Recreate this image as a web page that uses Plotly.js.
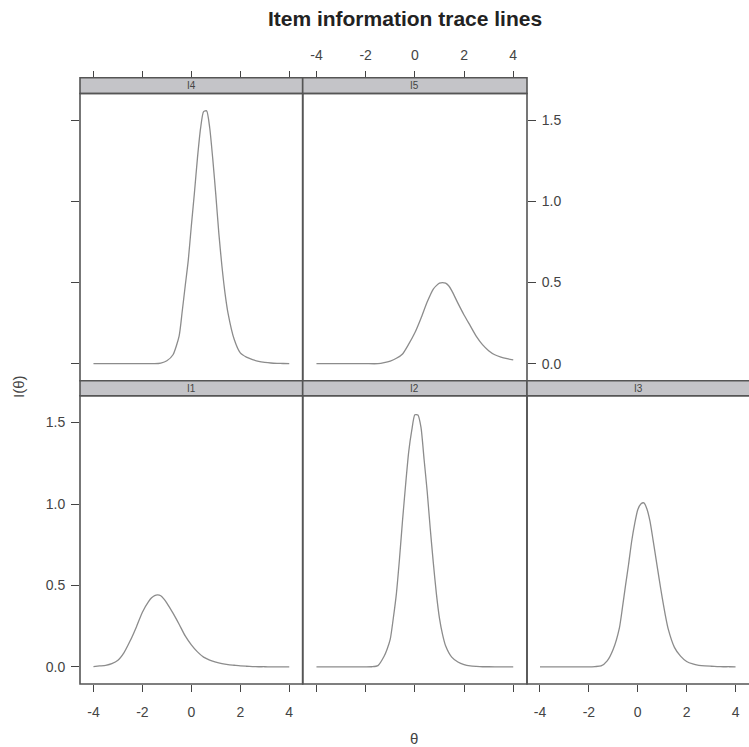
<!DOCTYPE html>
<html>
<head>
<meta charset="utf-8">
<script src="https://cdn.plot.ly/plotly-3.0.1.min.js"></script>
<style>
  html, body { margin: 0; padding: 0; background: #ffffff; }
  #plot { width: 749px; height: 747px; }
</style>
</head>
<body>
<div id="plot"></div>
<script>
// Item information I(theta), one theta grid per item (denser around each peak)
const thetaI1 = [-4, -3.75, -3.5, -3.25, -3, -2.75, -2.5, -2.25, -2, -1.75, -1.625, -1.5, -1.375,
  -1.25, -1.125, -1, -0.75, -0.5, -0.25, 0, 0.25, 0.5, 0.75, 1, 1.25, 1.5, 1.75, 2, 2.25, 2.5,
  2.75, 3, 3.25, 3.5, 3.75, 4];
const infoI1 = [0.002, 0.006, 0.010, 0.020, 0.041, 0.088, 0.160, 0.244, 0.336, 0.400, 0.424,
  0.438, 0.442, 0.437, 0.418, 0.392, 0.330, 0.262, 0.190, 0.135, 0.092, 0.060, 0.042, 0.029,
  0.020, 0.014, 0.010, 0.006, 0.004, 0.002, 0.001, 0.001, 0, 0, 0, 0];

const thetaI2 = [-4, -3.5, -3, -2.5, -2, -1.75, -1.5, -1.25, -1.125, -1, -0.875, -0.75, -0.625,
  -0.5, -0.375, -0.25, -0.125, 0, 0.125, 0.25, 0.375, 0.5, 0.625, 0.75, 0.875, 1, 1.125, 1.25,
  1.5, 1.75, 2, 2.25, 2.5, 2.75, 3, 3.5, 4];
const infoI2 = [0, 0, 0, 0, 0, 0.001, 0.008, 0.065, 0.110, 0.170, 0.300, 0.450, 0.662, 0.900,
  1.120, 1.320, 1.453, 1.548, 1.546, 1.470, 1.275, 1.080, 0.851, 0.640, 0.450, 0.300, 0.200,
  0.130, 0.060, 0.030, 0.014, 0.006, 0.003, 0.001, 0.001, 0, 0];

const thetaI3 = [-4, -3.5, -3, -2.5, -2, -1.75, -1.5, -1.25, -1, -0.75, -0.625, -0.5, -0.375,
  -0.25, -0.125, 0, 0.125, 0.25, 0.375, 0.5, 0.625, 0.75, 0.875, 1, 1.125, 1.25, 1.5, 1.75, 2,
  2.25, 2.5, 2.75, 3, 3.25, 3.5, 3.75, 4];
const infoI3 = [0, 0, 0, 0, 0, 0.002, 0.006, 0.037, 0.110, 0.240, 0.365, 0.500, 0.630, 0.770,
  0.880, 0.965, 1.000, 1.007, 0.970, 0.895, 0.780, 0.660, 0.540, 0.425, 0.320, 0.230, 0.120,
  0.066, 0.033, 0.018, 0.010, 0.006, 0.004, 0.002, 0.001, 0.001, 0];

const thetaI4 = [-4, -3.5, -3, -2.5, -2, -1.5, -1.25, -1, -0.75, -0.5, -0.375, -0.25, -0.125, 0,
  0.125, 0.25, 0.375, 0.5, 0.625, 0.75, 0.875, 1, 1.125, 1.25, 1.375, 1.5, 1.75, 2, 2.25, 2.5,
  2.75, 3, 3.25, 3.5, 3.75, 4];
const infoI4 = [0, 0, 0, 0, 0, 0, 0.004, 0.018, 0.055, 0.170, 0.320, 0.480, 0.638, 0.850, 1.052,
  1.268, 1.448, 1.553, 1.558, 1.454, 1.262, 1.040, 0.800, 0.600, 0.435, 0.310, 0.150, 0.066,
  0.040, 0.025, 0.014, 0.008, 0.004, 0.002, 0.001, 0];

const thetaI5 = [-4, -3.5, -3, -2.5, -2, -1.5, -1.25, -1, -0.75, -0.5, -0.25, 0, 0.25, 0.5, 0.75,
  0.875, 1, 1.125, 1.25, 1.375, 1.5, 1.75, 2, 2.25, 2.5, 2.75, 3, 3.25, 3.5, 3.75, 4];
const infoI5 = [0, 0, 0, 0, 0, 0, 0.006, 0.016, 0.033, 0.060, 0.120, 0.190, 0.280, 0.380, 0.460,
  0.481, 0.496, 0.500, 0.496, 0.480, 0.450, 0.373, 0.300, 0.234, 0.168, 0.117, 0.080, 0.055,
  0.041, 0.031, 0.023];

// Tick positions and labels
const xTickVals = [-4, -2, 0, 2, 4];
const xTickText = ['-4', '-2', '0', '2', '4'];
const yTickVals = [0, 0.5, 1, 1.5];
const yTickText = ['0.0', '0.5', '1.0', '1.5'];

const titleText = 'Item information trace lines';
const xTitleText = '\u03b8';
const yTitleText = 'I(\u03b8)';

// ---- page geometry (pixels) ----
const W = 749, H = 747;
const fx = p => p / W;
const fy = p => 1 - p / H;

const colPx = [[80, 302.7], [302.7, 527], [527, 749]];
const colRange = [[-4.55, 4.55], [-4.56, 4.56], [-4.53, 4.55]];
const rowPx = {
  top:    { strip: [77.7, 93.5],  panel: [93.5, 380.7] },
  bottom: { strip: [380.7, 395.7], panel: [395.7, 684] }
};
const yRange = [-0.105, 1.665];

const ink = '#444444';
const frame = '#555555';
const stripFill = '#c4c4c8';
const curveColor = '#8c8c8c';
const tickFont = { family: 'Liberation Sans Narrow, Arial Narrow, Liberation Sans, Arial, sans-serif', size: 14, color: ink };

// Lattice-style arrangement: upper row I4, I5; lower row I1, I2, I3
const panels = [
  { name: 'I4', x: thetaI4, y: infoI4, col: 0, row: 'top',    xAxis: 'topTicks',     yAxis: 'leftTicks' },
  { name: 'I5', x: thetaI5, y: infoI5, col: 1, row: 'top',    xAxis: 'topLabels',    yAxis: 'rightLabels' },
  { name: 'I1', x: thetaI1, y: infoI1, col: 0, row: 'bottom', xAxis: 'bottomLabels', yAxis: 'leftLabels' },
  { name: 'I2', x: thetaI2, y: infoI2, col: 1, row: 'bottom', xAxis: 'bottomTicks',  yAxis: 'none' },
  { name: 'I3', x: thetaI3, y: infoI3, col: 2, row: 'bottom', xAxis: 'bottomLabels', yAxis: 'none' }
];

const traces = [];
const layout = {
  width: W, height: H,
  margin: { l: 0, r: 0, t: 0, b: 0 },
  paper_bgcolor: '#ffffff',
  plot_bgcolor: 'rgba(0,0,0,0)',
  showlegend: false,
  title: {
    text: '<b>' + titleText + '</b>',
    x: fx(405), xref: 'paper', xanchor: 'center',
    y: fy(19), yref: 'container', yanchor: 'middle',
    font: { family: 'Liberation Sans, Arial, sans-serif', size: 21, color: '#222222' }
  },
  shapes: [],
  annotations: []
};

panels.forEach((p, i) => {
  const k = i + 1;
  const xName = 'xaxis' + (k === 1 ? '' : k);
  const yName = 'yaxis' + (k === 1 ? '' : k);
  const xId = 'x' + (k === 1 ? '' : k);
  const yId = 'y' + (k === 1 ? '' : k);
  const cx = colPx[p.col];
  const r = rowPx[p.row];

  traces.push({
    x: p.x, y: p.y, xaxis: xId, yaxis: yId,
    type: 'scatter', mode: 'lines',
    line: { color: curveColor, width: 1.3, shape: 'spline', smoothing: 0.6 },
    hoverinfo: 'skip'
  });

  const xa = {
    domain: [fx(cx[0]), fx(cx[1])], range: colRange[p.col],
    showgrid: false, zeroline: false, showline: false,
    tickvals: xTickVals, ticktext: xTickText,
    ticks: 'outside', ticklen: 7, tickwidth: 1, tickcolor: ink,
    tickfont: tickFont, automargin: false, fixedrange: true
  };
  if (p.xAxis.startsWith('top')) {
    xa.anchor = 'free';
    xa.position = fy(r.strip[0]);
    xa.side = 'top';
    xa.ticklabelstandoff = 5;
  } else {
    xa.anchor = yId;
    xa.side = 'bottom';
    xa.ticklabelstandoff = 8;
  }
  xa.showticklabels = p.xAxis.endsWith('Labels');
  layout[xName] = xa;

  layout[yName] = {
    domain: [fy(r.panel[1]), fy(r.panel[0])], range: yRange,
    anchor: xId,
    showgrid: false, zeroline: false, showline: false,
    tickvals: yTickVals, ticktext: yTickText,
    ticks: p.yAxis === 'none' ? '' : 'outside', ticklen: 8, tickwidth: 1, tickcolor: ink,
    tickfont: tickFont, automargin: false, fixedrange: true,
    side: p.yAxis.startsWith('right') ? 'right' : 'left',
    showticklabels: p.yAxis.endsWith('Labels'),
    ticklabelstandoff: 3
  };

  // the rightmost column runs past the page edge, so its frame is pushed off-page
  const right = p.col === 2 ? 752 : cx[1];
  // strip carrying the item name
  layout.shapes.push({
    type: 'rect', xref: 'paper', yref: 'paper', layer: 'above',
    x0: fx(cx[0]), x1: fx(right), y0: fy(r.strip[1]), y1: fy(r.strip[0]),
    fillcolor: stripFill, line: { color: frame, width: 1.6 }
  });
  layout.annotations.push({
    xref: 'paper', yref: 'paper', showarrow: false,
    x: fx((cx[0] + cx[1]) / 2), y: fy((r.strip[0] + r.strip[1]) / 2),
    xanchor: 'center', yanchor: 'middle',
    text: p.name, font: { family: 'Liberation Sans Narrow, Liberation Sans, Arial, sans-serif', size: 10, color: ink }
  });
  // panel frame
  layout.shapes.push({
    type: 'rect', xref: 'paper', yref: 'paper', layer: 'above',
    x0: fx(cx[0]), x1: fx(right), y0: fy(r.panel[1]), y1: fy(r.panel[0]),
    fillcolor: 'rgba(0,0,0,0)', line: { color: frame, width: 1.6 }
  });
});

// shared axis titles
layout.annotations.push({
  xref: 'paper', yref: 'paper', showarrow: false,
  x: fx(414), y: fy(738), xanchor: 'center', yanchor: 'middle',
  text: xTitleText, font: { family: 'Liberation Sans, Arial, sans-serif', size: 15, color: ink }
});
layout.annotations.push({
  xref: 'paper', yref: 'paper', showarrow: false,
  x: fx(18), y: fy(387), xanchor: 'center', yanchor: 'middle', textangle: -90,
  text: yTitleText, font: { family: 'Liberation Sans, Arial, sans-serif', size: 15, color: ink }
});

Plotly.newPlot('plot', traces, layout, { staticPlot: true, displayModeBar: false });
</script>
</body>
</html>
